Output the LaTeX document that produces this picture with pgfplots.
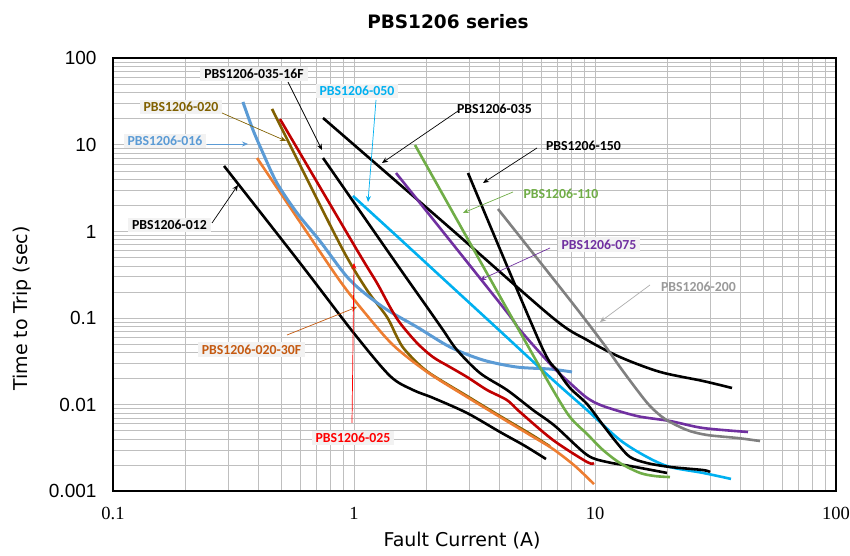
\documentclass[border=0pt]{standalone}
\usepackage{fontspec}
\setmainfont{Carlito}
\newfontfamily\djv{DejaVu Sans}
\newfontfamily\lsans{Liberation Sans}
\newfontfamily\lserif{Liberation Serif}
\usepackage{pgfplots}
\pgfplotsset{compat=1.18}
\usetikzlibrary{arrows.meta}
\definecolor{c016}{HTML}{5B9BD5}
\definecolor{c020}{RGB}{128,96,0}
\definecolor{c030F}{HTML}{ED7D31}
\definecolor{t030F}{HTML}{C55A11}
\definecolor{c025}{HTML}{C00000}
\definecolor{t025}{HTML}{FF0000}
\definecolor{c050}{HTML}{00B0F0}
\definecolor{c075}{HTML}{7030A0}
\definecolor{c110}{HTML}{70AD47}
\definecolor{c200}{HTML}{808080}
\definecolor{t200}{HTML}{999999}
\definecolor{gridc}{HTML}{BFBFBF}
\definecolor{boxc}{HTML}{F2F2F2}
\begin{document}
\begin{tikzpicture}
\path[use as bounding box] (0,0) rectangle (850bp,556bp);
\begin{loglogaxis}[
  at={(113bp,64.7bp)}, anchor=south west,
  scale only axis, width=723bp, height=433bp,
  xmin=0.1, xmax=100, ymin=0.001, ymax=100,
  xtick={0.1,1,10,100}, xticklabels={0.1,1,10,100},
  ytick={0.001,0.01,0.1,1,10,100}, yticklabels={0.001,0.01,0.1,1,10,100},
  minor xtick={0.2,0.3,0.4,0.5,0.6,0.7,0.8,0.9,2,3,4,5,6,7,8,9,20,30,40,50,60,70,80,90},
  minor ytick={0.002,0.003,0.004,0.005,0.006,0.007,0.008,0.009,0.02,0.03,0.04,0.05,0.06,0.07,0.08,0.09,0.2,0.3,0.4,0.5,0.6,0.7,0.8,0.9,2,3,4,5,6,7,8,9,20,30,40,50,60,70,80,90},
  grid=both,
  major grid style={draw=gridc, line width=0.9bp},
  minor grid style={draw=gridc, line width=0.9bp},
  major tick length=0pt, minor tick length=0pt,
  axis line style={line width=1.8bp},
  xticklabel style={font=\lserif\fontsize{18.5bp}{20bp}\selectfont, yshift=-12bp},
  yticklabel style={font=\lsans\fontsize{19bp}{21bp}\selectfont, xshift=-13bp},
  no markers,
  every axis plot/.append style={line width=2.6bp, smooth, tension=0.5},
]
% PBS1206-020 (olive)
\addplot[c020] coordinates {(0.457,26.0) (0.597,5.86) (0.900,0.611) (1.132,0.211) (1.370,0.103) (1.508,0.0605) (1.628,0.0428) (2.009,0.0243) (2.944,0.0126) (4.035,0.0074) (5.374,0.00462) (6.507,0.00330)};
% PBS1206-020-30F (orange)
\addplot[c030F] coordinates {(0.396,7.06) (0.597,1.287) (0.875,0.268) (1.111,0.1145) (1.452,0.0489) (2.009,0.0239) (2.944,0.01227) (4.035,0.00721) (5.374,0.00447) (6.695,0.00308) (8.26,0.00196) (9.906,0.00121)};
% PBS1206-016 (light blue)
\addplot[c016, line width=3bp] coordinates {(0.346,31.3) (0.381,14.9) (0.419,8.07) (0.479,3.63) (0.580,1.64) (0.722,0.777) (0.962,0.275) (1.319,0.134) (1.826,0.0789) (2.502,0.0464) (3.430,0.0328) (4.746,0.0272) (6.507,0.0258) (8.026,0.0239)};
% PBS1206-012
\addplot[black] coordinates {(0.289,5.71) (0.597,0.433) (0.990,0.0691) (1.411,0.02145) (1.757,0.0148) (2.127,0.0120) (2.944,0.00802) (4.035,0.00484) (5.123,0.00334) (6.262,0.00236)};
% PBS1206-025 (dark red)
\addplot[c025] coordinates {(0.493,19.9) (1.029,0.611) (1.246,0.254) (1.411,0.134) (1.552,0.0878) (1.826,0.0516) (2.127,0.0355) (2.502,0.0272) (2.944,0.0209) (3.564,0.0148) (4.313,0.0113) (4.884,0.00823) (6.695,0.00391) (9.265,0.00218) (9.906,0.00212)};
% PBS1206-035-16F
\addplot[black] coordinates {(0.744,7.06) (1.370,0.611) (1.708,0.254) (2.009,0.134) (2.341,0.0729) (2.676,0.0428) (3.333,0.0232) (4.313,0.0148) (5.530,0.00868) (6.823,0.00568) (9.265,0.00263) (11.21,0.00218) (13.97,0.00196) (19.90,0.00163)};
% PBS1206-050 (cyan)
\addplot[c050] coordinates {(0.990,2.57) (1.552,0.819) (2.502,0.241) (4.035,0.071) (6.695,0.0193) (9.265,0.00868) (12.70,0.00391) (16.44,0.00249) (20.47,0.00191) (28.07,0.00163) (36.67,0.00139)};
% PBS1206-035
\addplot[black] coordinates {(0.744,20.45) (2.502,1.098) (6.695,0.1003) (9.265,0.0559) (12.70,0.0355) (18.61,0.0239) (28.07,0.01878) (37.03,0.0156)};
% PBS1206-075 (purple)
\addplot[c075] coordinates {(1.494,4.74) (4.152,0.134) (4.884,0.0729) (6.695,0.0272) (7.874,0.0178) (9.265,0.0120) (10.79,0.00966) (14.94,0.0074) (20.47,0.00648) (28.07,0.00538) (43.14,0.00484)};
% PBS1206-110 (green)
\addplot[c110] coordinates {(1.791,9.97) (4.884,0.0691) (6.695,0.0148) (7.874,0.00721) (9.265,0.00459) (10.79,0.0030) (12.70,0.00212) (15.37,0.00163) (17.74,0.0015) (20.47,0.00146)};
% PBS1206-150
\addplot[black] coordinates {(2.972,4.74) (5.912,0.0516) (6.956,0.0252) (7.874,0.0156) (9.265,0.0102) (10.79,0.00583) (12.34,0.00361) (13.97,0.00249) (16.44,0.00212) (20.47,0.00191) (28.07,0.00176) (30.0,0.00167)};
% PBS1206-200 (gray)
\addplot[c200] coordinates {(3.958,1.82) (7.874,0.162) (10.79,0.0516) (12.70,0.0272) (14.94,0.0148) (16.91,0.00966) (19.52,0.00684) (24.08,0.0051) (29.15,0.00447) (38.83,0.00413) (48.38,0.00381)};
\end{loglogaxis}
\begin{scope}[x=1bp, y=-1bp, yshift=556bp]
% titles
\node[font=\djv\bfseries\fontsize{18.5bp}{20bp}\selectfont] at (448,22) {PBS1206 series};
\node[font=\djv\fontsize{19bp}{21bp}\selectfont, anchor=base] at (462,547) {Fault Current (A)};
\node[font=\djv\fontsize{19bp}{21bp}\selectfont, anchor=base, rotate=90] at (27,308.5) {Time to Trip (sec)};
% arrows
\tikzset{arr/.style={-{Stealth[length=6bp,width=5bp]}, line width=0.7bp}}
\draw[arr, black] (288,82) -- (322,150);
\draw[arr, c050] (376,100) -- (368,202);
\draw[arr, c020] (222,113) -- (286,141);
\draw[arr, c016] (207,144) -- (248,144);
\draw[arr, black] (212,223) -- (238,185);
\draw[arr, black] (458,111) -- (382,163);
\draw[arr, black] (537,148) -- (483,183);
\draw[arr, c110] (513,192) -- (463,213);
\draw[arr, c075] (550,248) -- (480,280);
\draw[arr, t200!80] (650,285) -- (600,322);
\draw[arr, t030F] (287,335) -- (357,307);
\draw[arr, t025] (352,423) -- (354,263);
% labels
\tikzset{lab/.style={font=\bfseries\fontsize{13.8bp}{15bp}\selectfont, inner xsep=4bp, inner ysep=2.5bp}}
\node[lab, fill=boxc, text=black] at (254,74) {PBS1206-035-16F};
\node[lab, fill=boxc, text=c050] at (357,91) {PBS1206-050};
\node[lab, fill=boxc, text=c020] at (181,107) {PBS1206-020};
\node[lab, fill=boxc, text=c016] at (165,141) {PBS1206-016};
\node[lab, fill=boxc, text=black] at (169.5,225) {PBS1206-012};
\node[lab, text=black] at (494.5,109) {PBS1206-035};
\node[lab, text=black] at (583.5,146) {PBS1206-150};
\node[lab, text=c110] at (561,194) {PBS1206-110};
\node[lab, fill=boxc, text=c075] at (599,244.5) {PBS1206-075};
\node[lab, text=t200] at (698.5,286.5) {PBS1206-200};
\node[lab, fill=boxc, text=t030F] at (251.5,349.5) {PBS1206-020-30F};
\node[lab, fill=boxc, text=t025] at (353,438) {PBS1206-025};
\end{scope}
\end{tikzpicture}
\end{document}
